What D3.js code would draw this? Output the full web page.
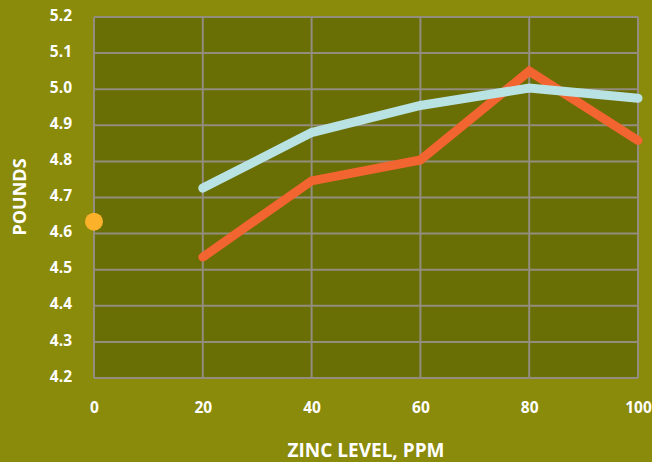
<!DOCTYPE html>
<html><head><meta charset="utf-8">
<script src="https://cdn.jsdelivr.net/npm/d3@7"></script>
<style>
html,body{margin:0;padding:0;background:#8a8a0b;}
text{font-family:"Open Sans","Noto Sans",sans-serif;font-weight:700;fill:#ffffff;}
</style></head>
<body><svg id="c" width="652" height="462"></svg>
<script>
const xTicks = [0, 20, 40, 60, 80, 100];
const yTicks = [4.2, 4.3, 4.4, 4.5, 4.6, 4.7, 4.8, 4.9, 5.0, 5.1, 5.2];
const zinc = [20, 40, 60, 80, 100];
const seriesBlue = [4.726, 4.88, 4.955, 5.003, 4.975];
const seriesOrange = [4.535, 4.746, 4.804, 5.05, 4.858];
const controlPoint = [{x: 0, y: 4.633}];

const svg = d3.select("#c");
const m = {l: 94, t: 17, r: 638, b: 378};
const x = d3.scaleLinear().domain([0, 100]).range([m.l, m.r]);
const y = d3.scaleLinear().domain([4.2, 5.2]).range([m.b, m.t]);

svg.append("rect").attr("width", 652).attr("height", 462).attr("fill", "#8a8a0b");
svg.append("rect").attr("x", m.l).attr("y", m.t).attr("width", m.r - m.l).attr("height", m.b - m.t).attr("fill", "#696e05");

const grid = svg.append("g").attr("stroke", "#928d7d").attr("stroke-width", 2).attr("fill", "none");
grid.selectAll(".h").data(yTicks).join("line")
  .attr("x1", m.l).attr("x2", m.r).attr("y1", d => y(d)).attr("y2", d => y(d));
grid.selectAll(".v").data(xTicks).join("line")
  .attr("y1", m.t).attr("y2", m.b).attr("x1", d => x(d)).attr("x2", d => x(d));

const yAxis = d3.axisLeft(y).tickValues(yTicks).tickFormat(d3.format(".1f")).tickSize(0).tickPadding(22);
const ya = svg.append("g").attr("transform", `translate(${m.l},0)`).call(yAxis);
ya.select(".domain").remove();
ya.selectAll("text").attr("font-size", 15.5).attr("fill", "#fff").attr("dy", "0.2em")
  .style("font-family", '"Open Sans","Noto Sans",sans-serif').style("font-weight", 700);

const xAxis = d3.axisBottom(x).tickValues(xTicks).tickFormat(d3.format("d")).tickSize(0).tickPadding(24);
const xa = svg.append("g").attr("transform", `translate(0,${m.b})`).call(xAxis);
xa.select(".domain").remove();
xa.selectAll("text").attr("font-size", 15.5).attr("fill", "#fff")
  .style("font-family", '"Open Sans","Noto Sans",sans-serif').style("font-weight", 700);

const line = d3.line().x(d => x(d[0])).y(d => y(d[1]));
svg.append("path").datum(zinc.map((z, i) => [z, seriesOrange[i]]))
  .attr("d", line).attr("fill", "none").attr("stroke", "#f26430").attr("stroke-width", 9)
  .attr("stroke-linecap", "round").attr("stroke-linejoin", "miter");
svg.append("path").datum(zinc.map((z, i) => [z, seriesBlue[i]]))
  .attr("d", line).attr("fill", "none").attr("stroke", "#b9e3e3").attr("stroke-width", 9)
  .attr("stroke-linecap", "round").attr("stroke-linejoin", "miter");

svg.selectAll(".pt").data(controlPoint).join("circle")
  .attr("cx", d => x(d.x)).attr("cy", d => y(d.y)).attr("r", 9).attr("fill", "#fbb22a");

svg.append("text").attr("x", 366).attr("y", 457).attr("text-anchor", "middle")
  .attr("font-size", 19).text("ZINC LEVEL, PPM");
svg.append("text").attr("transform", "translate(26,197) rotate(-90)").attr("text-anchor", "middle")
  .attr("font-size", 18).text("POUNDS");
</script></body></html>
